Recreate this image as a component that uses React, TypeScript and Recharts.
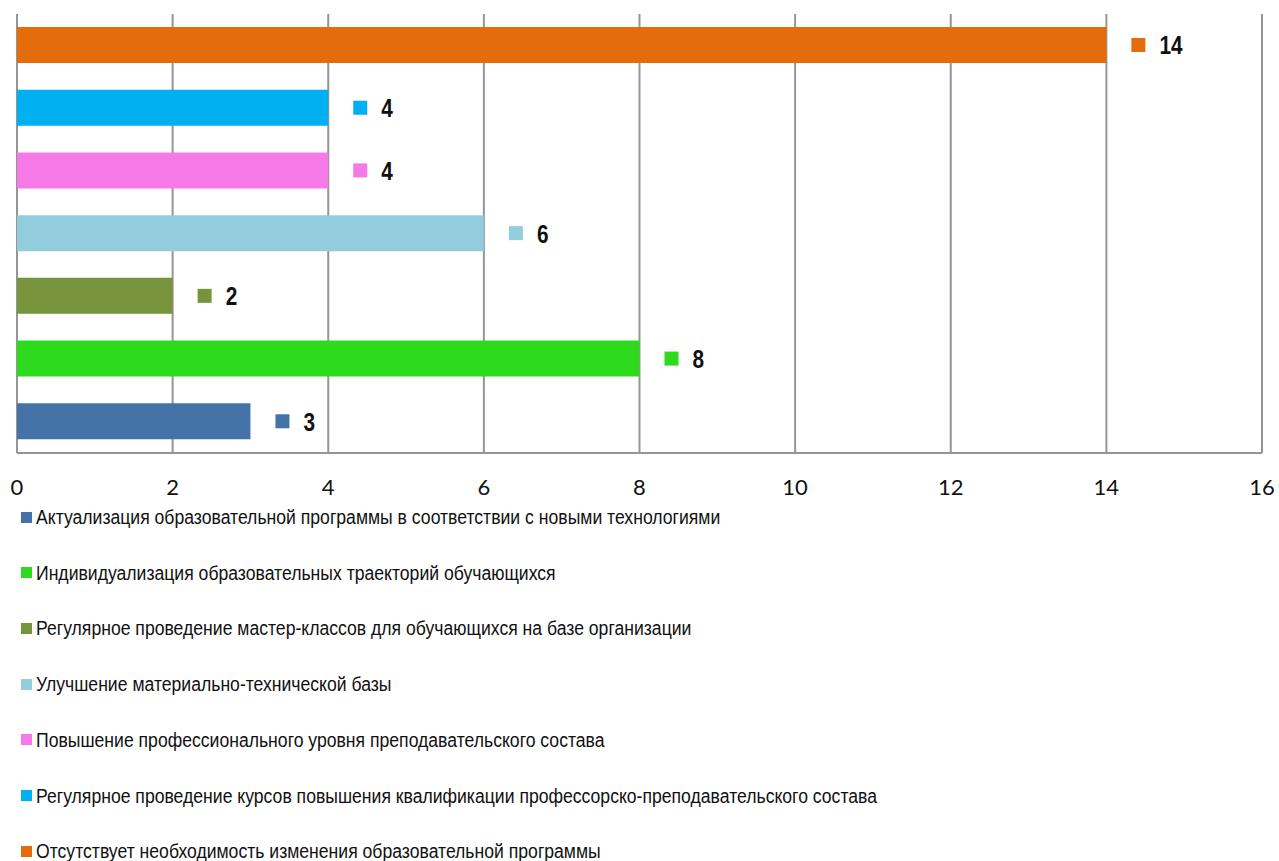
import { BarChart, Bar, XAxis, YAxis, CartesianGrid, Cell, LabelList, Legend } from "recharts";

// legend order (bottom bar first)
const categories = [
  "Актуализация образовательной программы в соответствии с новыми технологиями",
  "Индивидуализация образовательных траекторий обучающихся",
  "Регулярное проведение мастер-классов для обучающихся на базе организации",
  "Улучшение материально-технической базы",
  "Повышение профессионального уровня преподавательского состава",
  "Регулярное проведение курсов повышения квалификации профессорско-преподавательского состава",
  "Отсутствует необходимость изменения образовательной программы",
];
const values = [3, 8, 2, 6, 4, 4, 14];
const colors = ["#4573A7", "#2EDA1E", "#77933C", "#93CDDD", "#F57AE8", "#00B0F0", "#E46C0A"];
const xTicks = [0, 2, 4, 6, 8, 10, 12, 14, 16];

const data = categories.map((name, i) => ({ name, value: values[i], color: colors[i] }));

const SANS = "'Liberation Sans', Arial, sans-serif";

// Arial Narrow look: squeeze Liberation Sans horizontally
const ValueLabel = (props: any) => {
  const { x, y, width, height, value, index } = props;
  const end = x + width;
  const cy = y + height / 2;
  const tx = end + 53;
  return (
    <g>
      <rect x={end + 25} y={cy - 7} width={14} height={14} fill={colors[index]} />
      <text
        x={0}
        y={0}
        dy="0.36em"
        transform={`translate(${tx},${cy}) scale(0.8,1)`}
        fontFamily={SANS}
        fontWeight="bold"
        fontSize={26}
        fill="#111"
      >
        {value}
      </text>
    </g>
  );
};

const LegendList = () => (
  <div style={{ position: "relative", height: 360 }}>
    {categories.map((c, i) => (
      <div
        key={c}
        style={{
          position: "absolute",
          left: 21,
          top: 4 + i * 55.7,
          display: "flex",
          alignItems: "center",
          whiteSpace: "nowrap",
          fontFamily: SANS,
          fontSize: 20,
          color: "#111",
          lineHeight: "20px",
        }}
      >
        <span style={{ width: 11, height: 11, background: colors[i], marginRight: 4, display: "inline-block" }} />
        <span style={{ display: "inline-block", transform: "scaleX(0.88)", transformOrigin: "left center" }}>{c}</span>
      </div>
    ))}
  </div>
);

export default function App() {
  return (
    <div style={{ position: "absolute", left: 0, top: 0 }}>
      <BarChart
        width={1279}
        height={861}
        data={data}
        layout="vertical"
        margin={{ top: 14, right: 17, bottom: 0, left: 17 }}
      >
        <CartesianGrid horizontal={false} stroke="#959595" strokeWidth={2} />
        <XAxis
          type="number"
          domain={[0, 16]}
          ticks={xTicks}
          interval={0}
          tickLine={false}
          tickSize={0}
          tickMargin={26}
          height={50}
          axisLine={{ stroke: "#959595", strokeWidth: 2 }}
          tick={{ fill: "#111", fontSize: 22, fontFamily: "Lato, sans-serif" }}
        />
        <YAxis type="category" dataKey="name" reversed hide width={0} />
        <Legend
          verticalAlign="bottom"
          align="left"
          height={358}
          wrapperStyle={{ left: 0, bottom: 0, width: 1279 }}
          content={() => <LegendList />}
        />
        <Bar dataKey="value" barSize={36} isAnimationActive={false}>
          {data.map((d) => (
            <Cell key={d.name} fill={d.color} />
          ))}
          <LabelList dataKey="value" content={<ValueLabel />} />
        </Bar>
      </BarChart>
    </div>
  );
}
